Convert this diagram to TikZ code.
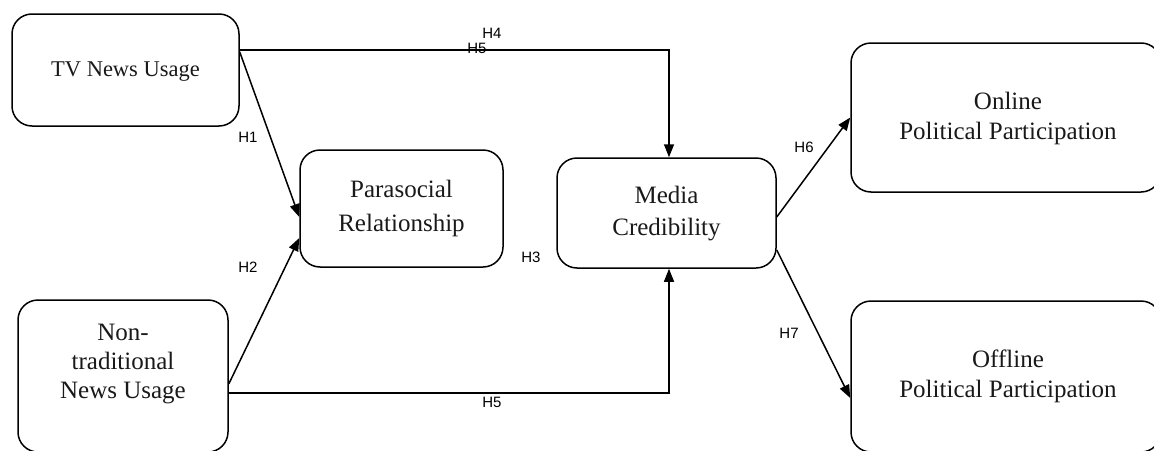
\documentclass[tikz,border=0pt]{standalone}
\usepackage{fontspec}
\setmainfont{Liberation Serif}
\newfontfamily\labfont{Liberation Sans}
\usetikzlibrary{arrows.meta}
\begin{document}
\begin{tikzpicture}[x=1pt,y=-1pt,
  box/.style={draw=black, line width=1.5pt, rounded corners=20pt, inner sep=0pt},
  txt/.style={align=center, font=\fontsize{25}{30}\selectfont, text=black!90},
  hlab/.style={font=\labfont\fontsize{15}{15}\selectfont, inner sep=0pt},
  conn/.style={line width=1.5pt, -{Triangle[length=13pt,width=10pt]}}]
\useasboundingbox (0,0) rectangle (1154,450);
\begin{scope}
\clip (0,0) rectangle (1154,450);
% boxes
\node[box, minimum width=227pt, minimum height=112pt] (tv) at (125.5,70) {};
\node[txt, font=\fontsize{22.5}{30}\selectfont] (tvt) at (125.5,72) {TV News Usage};
\node[box, minimum width=203pt, minimum height=117pt] (para) at (401.5,208.5) {};
\node[txt, font=\fontsize{25}{34}\selectfont] (parat) at (401.5,208) {Parasocial\\Relationship};
\node[box, minimum width=210pt, minimum height=152pt] (nt) at (123,376) {};
\node[txt, font=\fontsize{25}{29}\selectfont] (ntt) at (123,364) {Non-\\traditional\\News Usage};
\node[box, minimum width=219pt, minimum height=110pt] (media) at (666.5,213) {};
\node[txt, font=\fontsize{25}{32}\selectfont] (mediat) at (666.5,214) {Media\\Credibility};
\node[box, minimum width=310pt, minimum height=149pt] (online) at (1006,117.5) {};
\node[txt] (onlinet) at (1008,118) {Online\\Political Participation};
\node[box, minimum width=310pt, minimum height=151pt] (offline) at (1006,376.5) {};
\node[txt] (offlinet) at (1008,376) {Offline\\Political Participation};
\end{scope}
% connectors
\draw[conn] ([yshift=20pt]tv.east) -| ([xshift=2.5pt]media.north);
\draw[conn] ([yshift=18pt]tv.east) -- ([yshift=-8.5pt]para.west);
\draw[conn] ([yshift=-8pt]nt.east) -- ([yshift=-29.5pt]para.west);
\draw[conn] ([yshift=-17pt]nt.east) -| ([xshift=2.5pt]media.south);
\draw[conn] ([yshift=-4pt]media.east) -- (online.west);
\draw[conn] ([yshift=-37pt]media.east) -- ([yshift=-21.5pt]offline.west);
% labels
\node[hlab] (h4) at (492,33) {H4};
\node[hlab] (h5a) at (477,48) {H5};
\node[hlab] (h1) at (248,137) {H1};
\node[hlab] (h2) at (248,267) {H2};
\node[hlab] (h3) at (531,257) {H3};
\node[hlab] (h6) at (804,147) {H6};
\node[hlab] (h7) at (789,333) {H7};
\node[hlab] (h5b) at (492,402) {H5};
\end{tikzpicture}
\end{document}
